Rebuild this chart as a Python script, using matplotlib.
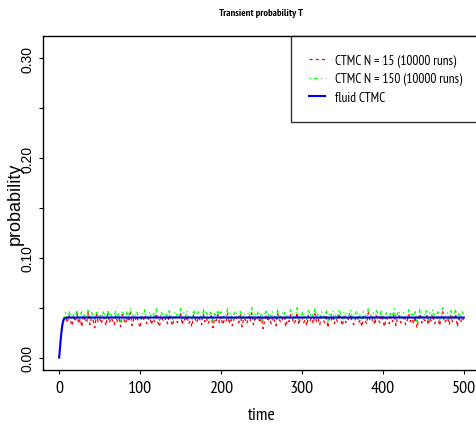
import matplotlib
matplotlib.use("Agg")
import matplotlib.pyplot as plt
from matplotlib import font_manager

# Time grid of the simulated curves and their estimated values.

time_sim = list(range(0, 501, 2))

ctmc_15 = [
    0.000, 0.022, 0.033, 0.038, 0.041, 0.035, 0.043, 0.037, 0.032, 0.040,
    0.036, 0.044, 0.034, 0.039, 0.031, 0.042, 0.038, 0.035, 0.045, 0.033,
    0.040, 0.037, 0.030, 0.043, 0.036, 0.039, 0.034, 0.041, 0.038, 0.032,
    0.044, 0.035, 0.040, 0.037, 0.033, 0.042, 0.036, 0.039, 0.031, 0.043,
    0.038, 0.034, 0.041, 0.036, 0.045, 0.032, 0.039, 0.037, 0.042, 0.035,
    0.030, 0.040, 0.037, 0.043, 0.034, 0.038, 0.041, 0.033, 0.039, 0.036,
    0.044, 0.035, 0.031, 0.042, 0.038, 0.036, 0.040, 0.034, 0.043, 0.037,
    0.032, 0.039, 0.041, 0.035, 0.038, 0.045, 0.033, 0.040, 0.036, 0.042,
    0.034, 0.037, 0.031, 0.043, 0.039, 0.035, 0.041, 0.038, 0.033, 0.044,
    0.036, 0.040, 0.034, 0.038, 0.042, 0.030, 0.039, 0.037, 0.043, 0.035,
    0.041, 0.033, 0.038, 0.036, 0.044, 0.034, 0.040, 0.032, 0.039, 0.042,
    0.037, 0.035, 0.043, 0.031, 0.040, 0.038, 0.034, 0.041, 0.036, 0.045,
    0.033, 0.039, 0.037, 0.042, 0.035, 0.040, 0.029, 0.038, 0.043, 0.036,
    0.040, 0.034, 0.041, 0.037, 0.032, 0.044, 0.038, 0.035, 0.039, 0.042,
    0.031, 0.038, 0.036, 0.043, 0.040, 0.034, 0.037, 0.045, 0.033, 0.039,
    0.041, 0.035, 0.038, 0.032, 0.042, 0.037, 0.040, 0.034, 0.044, 0.036,
    0.039, 0.033, 0.041, 0.038, 0.035, 0.043, 0.030, 0.040, 0.037, 0.042,
    0.034, 0.039, 0.036, 0.044, 0.038, 0.032, 0.041, 0.035, 0.040, 0.037,
    0.043, 0.036, 0.033, 0.039, 0.042, 0.035, 0.038, 0.031, 0.041, 0.037,
    0.034, 0.045, 0.038, 0.036, 0.040, 0.033, 0.042, 0.039, 0.035, 0.043,
    0.037, 0.031, 0.040, 0.038, 0.034, 0.041, 0.036, 0.044, 0.032, 0.039,
    0.042, 0.035, 0.038, 0.040, 0.033, 0.037, 0.043, 0.036, 0.039, 0.034,
    0.041, 0.030, 0.038, 0.044, 0.035, 0.039, 0.037, 0.042, 0.033, 0.040,
    0.036, 0.043, 0.034, 0.038, 0.041, 0.032, 0.039, 0.046, 0.035, 0.037,
    0.040, 0.033, 0.042, 0.036, 0.038, 0.044, 0.031, 0.039, 0.035, 0.041,
    0.037]

ctmc_150 = [
    0.000, 0.024, 0.035, 0.041, 0.045, 0.039, 0.047, 0.042, 0.038, 0.044,
    0.040, 0.048, 0.037, 0.043, 0.046, 0.039, 0.044, 0.041, 0.049, 0.038,
    0.045, 0.042, 0.036, 0.047, 0.040, 0.044, 0.039, 0.046, 0.043, 0.037,
    0.048, 0.041, 0.045, 0.038, 0.043, 0.047, 0.040, 0.044, 0.036, 0.046,
    0.042, 0.039, 0.047, 0.041, 0.050, 0.038, 0.044, 0.042, 0.046, 0.040,
    0.037, 0.045, 0.043, 0.048, 0.039, 0.042, 0.046, 0.038, 0.044, 0.041,
    0.049, 0.040, 0.037, 0.046, 0.043, 0.041, 0.045, 0.039, 0.047, 0.042,
    0.038, 0.044, 0.046, 0.040, 0.043, 0.049, 0.039, 0.045, 0.041, 0.047,
    0.040, 0.042, 0.037, 0.048, 0.044, 0.040, 0.046, 0.043, 0.038, 0.049,
    0.041, 0.045, 0.039, 0.043, 0.047, 0.036, 0.044, 0.042, 0.048, 0.040,
    0.046, 0.038, 0.043, 0.041, 0.049, 0.039, 0.045, 0.037, 0.044, 0.047,
    0.042, 0.040, 0.048, 0.037, 0.045, 0.043, 0.039, 0.046, 0.041, 0.050,
    0.038, 0.044, 0.042, 0.047, 0.040, 0.045, 0.036, 0.043, 0.048, 0.041,
    0.045, 0.039, 0.046, 0.042, 0.038, 0.049, 0.043, 0.040, 0.044, 0.047,
    0.037, 0.043, 0.041, 0.048, 0.045, 0.039, 0.042, 0.050, 0.038, 0.044,
    0.046, 0.040, 0.043, 0.038, 0.047, 0.042, 0.045, 0.039, 0.049, 0.041,
    0.044, 0.038, 0.046, 0.043, 0.040, 0.048, 0.036, 0.045, 0.042, 0.047,
    0.039, 0.044, 0.041, 0.049, 0.043, 0.037, 0.046, 0.040, 0.045, 0.042,
    0.048, 0.041, 0.038, 0.044, 0.047, 0.040, 0.043, 0.037, 0.046, 0.042,
    0.039, 0.050, 0.043, 0.041, 0.045, 0.038, 0.047, 0.044, 0.040, 0.048,
    0.042, 0.037, 0.045, 0.043, 0.039, 0.046, 0.041, 0.049, 0.038, 0.044,
    0.047, 0.040, 0.043, 0.045, 0.038, 0.042, 0.048, 0.041, 0.044, 0.039,
    0.046, 0.036, 0.043, 0.049, 0.040, 0.044, 0.042, 0.047, 0.038, 0.045,
    0.041, 0.048, 0.039, 0.043, 0.046, 0.037, 0.044, 0.050, 0.040, 0.042,
    0.045, 0.038, 0.047, 0.041, 0.043, 0.049, 0.037, 0.044, 0.040, 0.046,
    0.042]

# Fluid approximation.

time_fluid = [0, 1, 2, 3, 4, 5, 6, 8, 10, 500]
fluid = [0.0, 0.010, 0.019, 0.027, 0.033, 0.037, 0.039, 0.0400, 0.0402, 0.0402]

labels = ["CTMC N = 15 (10000 runs)", "CTMC N = 150 (10000 runs)", "fluid CTMC"]

x_ticks = [0, 100, 200, 300, 400, 500]
y_ticks = [0.0, 0.1, 0.2, 0.3]
y_ticks_minor = [0.05, 0.15, 0.25]
y_tick_labels = ["0.00", "0.10", "0.20", "0.30"]

# Pick a narrow font if one is installed, preferring one with a bold face.

regular = "Liberation Sans"
narrow = regular
candidates = [f for f in font_manager.fontManager.ttflist
              if "Narrow" in f.name or "Condensed" in f.name]
candidates.sort(key=lambda f: ("Narrow" not in f.name, f.name))
bold_ok = {f.name for f in candidates
           if f.weight in ("bold", 700, 600, "semibold", "demibold")}
if candidates:
    narrow = candidates[0].name
    for f in candidates:
        if f.name in bold_ok:
            narrow = f.name
            break

# Start the plotting.

fig = plt.figure(figsize=(4.77, 4.27), dpi=100)
ax = fig.add_axes([43 / 477, 56 / 427, 437 / 477, 334 / 427])

ax.plot(time_sim, ctmc_15, color="#ff0000", lw=0.9, linestyle=(0, (2.5, 2.5)),
        label=labels[0])
ax.plot(time_sim, ctmc_150, color="#00ff00", lw=0.9,
        linestyle=(0, (1, 2.5, 3, 2.5)), label=labels[1])
ax.plot(time_fluid, fluid, color="#0000ff", lw=1.5, label=labels[2])

ax.set_xlim(-20, 520)
ax.set_ylim(-0.0124, 0.3224)

ax.set_xticks(x_ticks)
ax.set_xticklabels([str(t) for t in x_ticks], fontfamily=narrow, fontsize=13)
ax.set_yticks(y_ticks)
ax.set_yticks(y_ticks_minor, minor=True)
ax.set_yticklabels(y_tick_labels, fontfamily=regular, fontsize=10,
                   rotation=90, va="center")

ax.tick_params(axis="both", which="both", direction="out", length=3,
               width=0.8, color="black")
ax.tick_params(axis="x", pad=4)
ax.tick_params(axis="y", pad=3)

for s in ax.spines.values():
    s.set_linewidth(1.0)
    s.set_color("black")

ax.set_xlabel("time", fontfamily=narrow, fontsize=13, labelpad=8)
ax.set_ylabel("probability", fontfamily=regular, fontsize=13, labelpad=-2)
ax.set_title("Transient probability T", fontfamily=narrow, fontsize=7.5,
             fontweight="bold", pad=15)

leg = ax.legend(loc="upper right", bbox_to_anchor=(1.0, 1.0), borderaxespad=0,
                frameon=True, fancybox=False, edgecolor="black",
                prop={"family": narrow, "size": 9.6}, handlelength=1.25,
                handletextpad=0.7, labelspacing=0.4, borderpad=1.35)
leg.get_frame().set_linewidth(1.0)

fig.savefig("out.png", dpi=100)
